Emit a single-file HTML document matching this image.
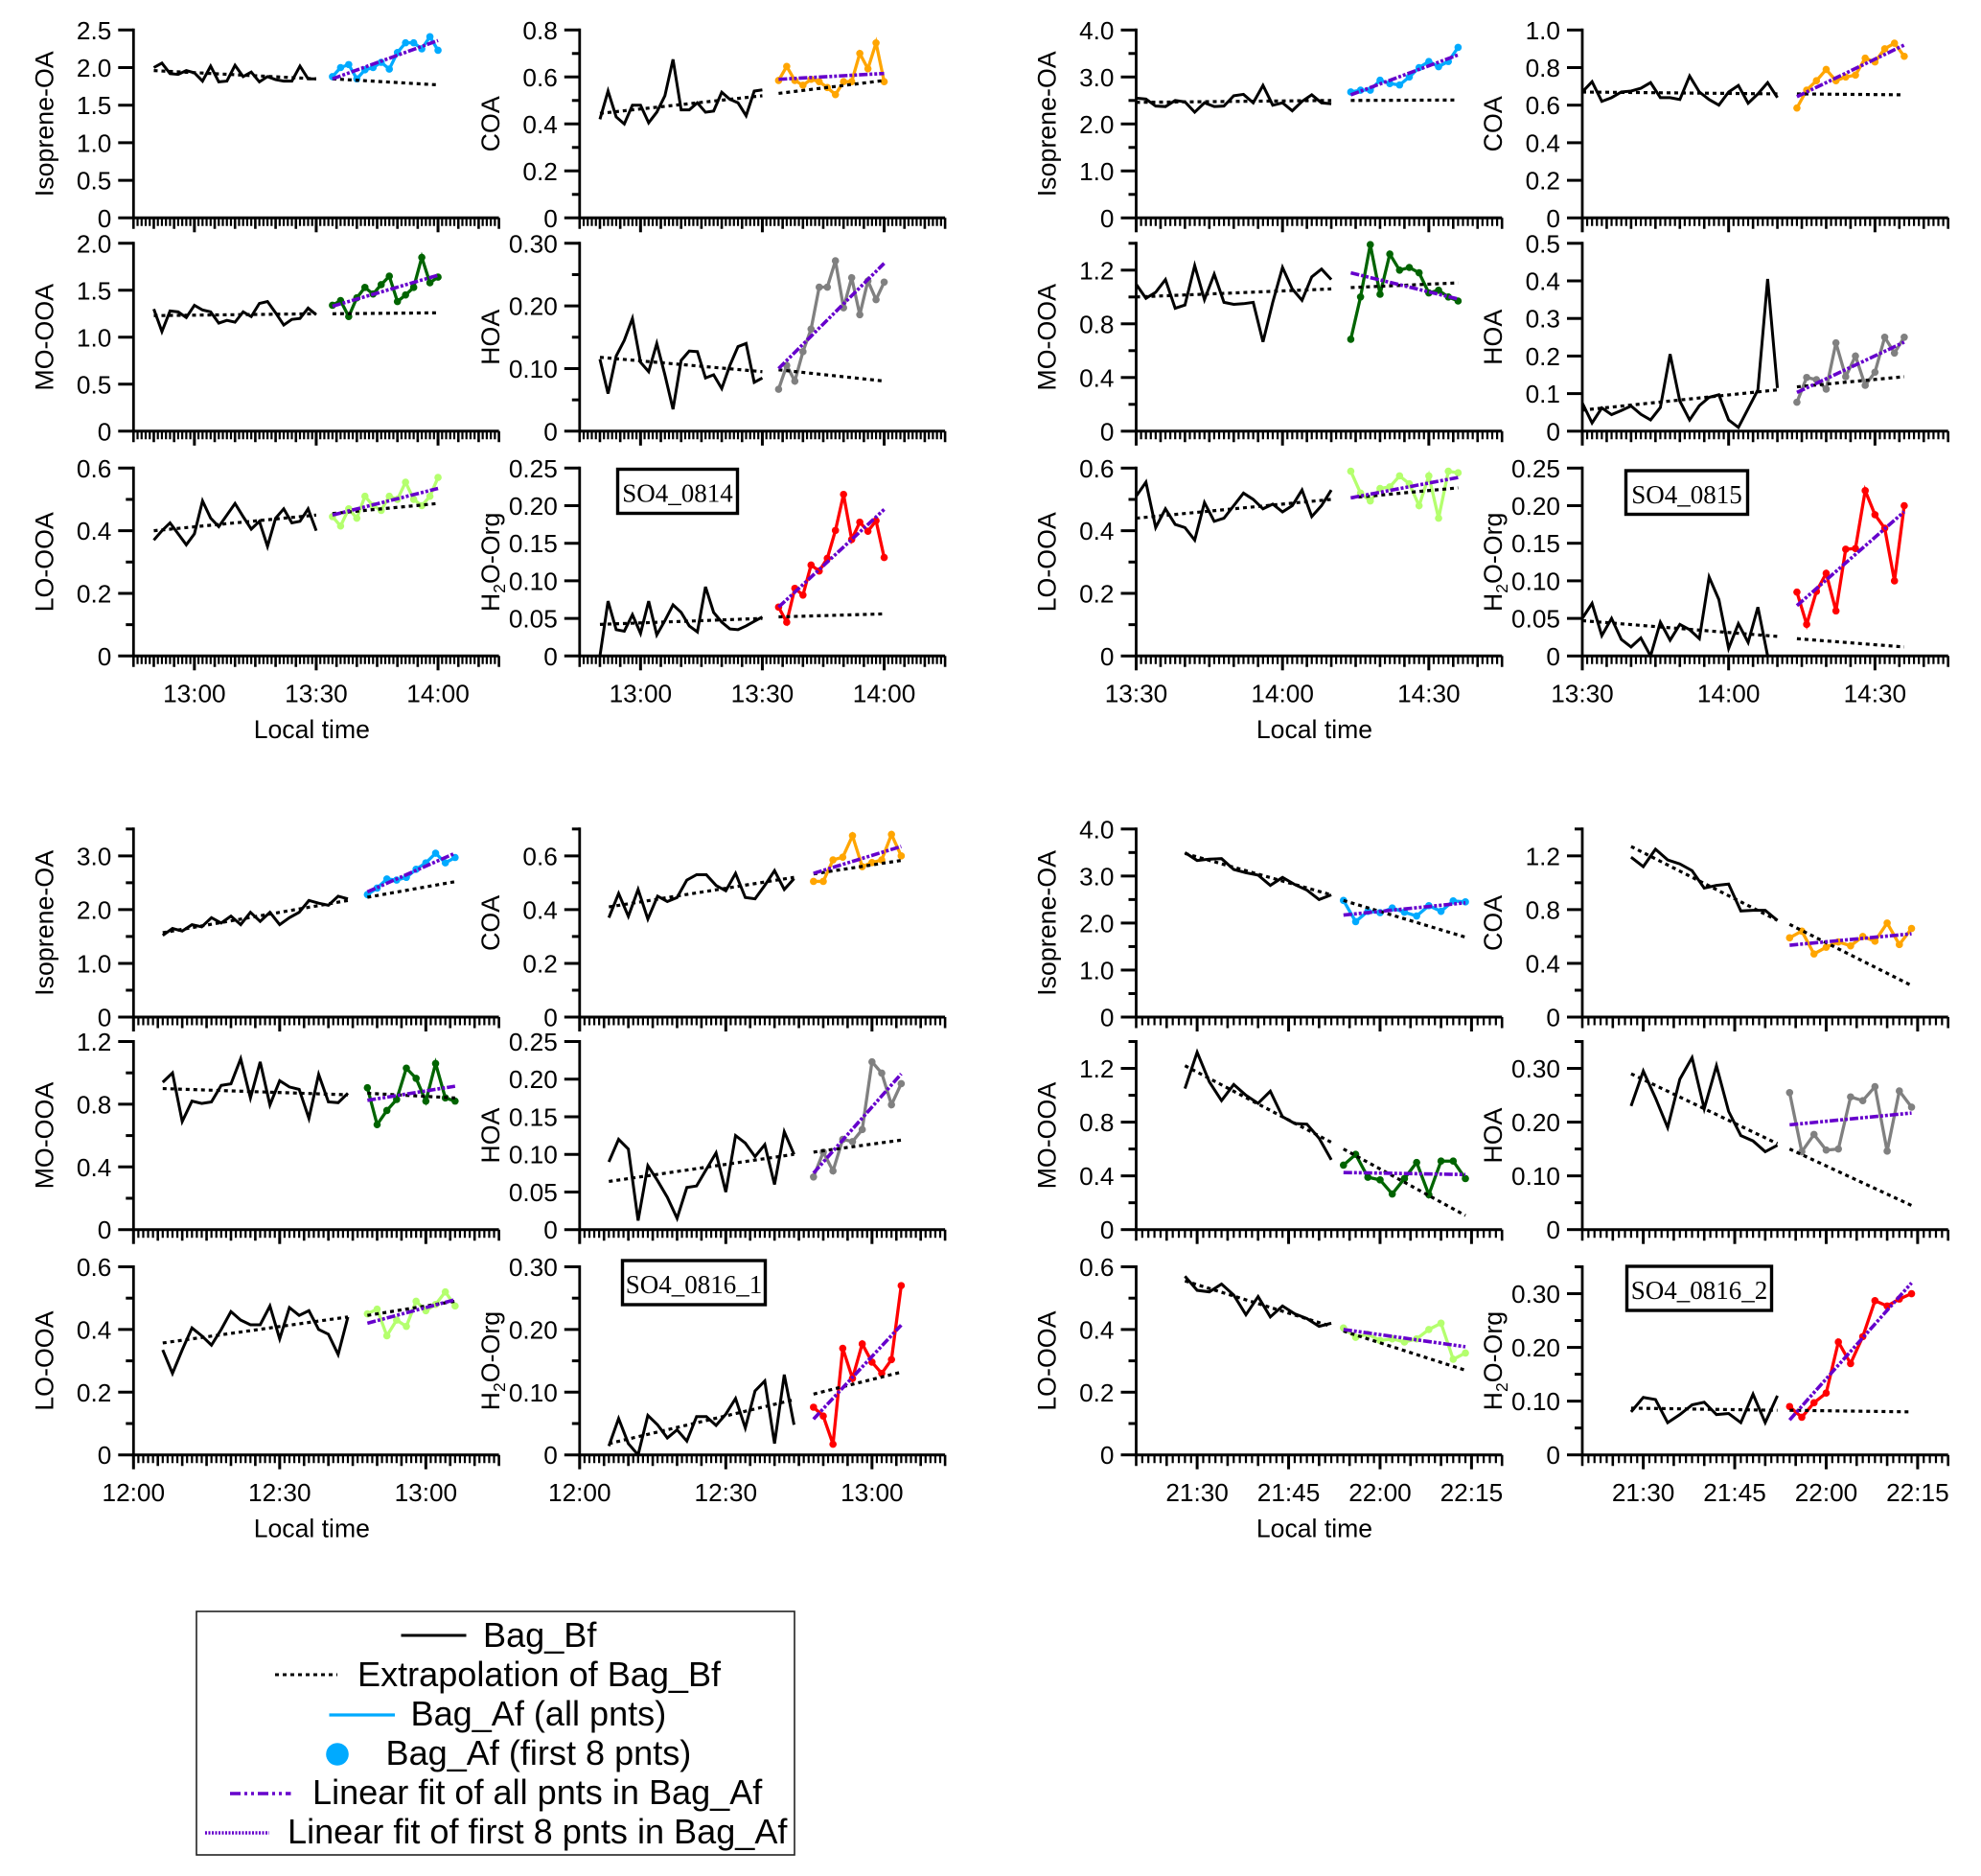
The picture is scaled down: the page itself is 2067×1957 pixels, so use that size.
<!DOCTYPE html>
<html lang="en">
<head>
<meta charset="utf-8">
<title>Bag experiment OA factor time series</title>
<style>
html,body{margin:0;padding:0;background:#fff;}
svg{display:block;font-family:"Liberation Sans",Arial,sans-serif;}
</style>
</head>
<body>
<svg id="chart" xmlns="http://www.w3.org/2000/svg" width="2067" height="1957" viewBox="0 0 2067 1957">
<rect x="0" y="0" width="2067" height="1957" fill="#fff"/>
<g id="plots"></g>
<g>
<rect x="205" y="1681" width="624" height="254" fill="#fff" stroke="#222" stroke-width="1.6"/>
<g font-size="36.1" fill="#000">
<line x1="418.5" x2="486.5" y1="1706" y2="1706" stroke="#000" stroke-width="3"/>
<text x="504" y="1718">Bag_Bf</text>
<line x1="287" x2="352" y1="1747" y2="1747" stroke="#000" stroke-width="3" stroke-dasharray="4 4"/>
<text x="373" y="1759">Extrapolation of Bag_Bf</text>
<line x1="343.5" x2="412" y1="1789" y2="1789" stroke="#00AAFF" stroke-width="3.2"/>
<text x="428.5" y="1800">Bag_Af (all pnts)</text>
<circle cx="352" cy="1830" r="11.8" fill="#00AAFF"/>
<text x="402.5" y="1841">Bag_Af (first 8 pnts)</text>
<line x1="240" x2="303.5" y1="1871" y2="1871" stroke="#6600CC" stroke-width="3.5" stroke-dasharray="11 4 3 4 3 4"/>
<text x="326" y="1882">Linear fit of all pnts in Bag_Af</text>
<line x1="214" x2="281" y1="1912" y2="1912" stroke="#6600CC" stroke-width="3.5" stroke-dasharray="2 1.5"/>
<text x="300" y="1923">Linear fit of first 8 pnts in Bag_Af</text>
</g>
</g>
</svg>
<script>
/* ---------- SO4_0814 ---------- */
const a1Bf=[2.0,2.06,1.92,1.91,1.96,1.93,1.82,2.02,1.81,1.82,2.03,1.88,1.94,1.81,1.88,1.84,1.82,1.82,2.02,1.85,1.85];
const a1Af=[1.88,2.0,2.04,1.85,1.97,2.0,2.07,1.98,2.2,2.33,2.33,2.25,2.41,2.23];
const a1Fit=[1.85,2.36];const a1ExtBf=[1.96,1.85];const a1ExtAf=[1.85,1.77];
const a2Bf=[0.42,0.54,0.43,0.40,0.48,0.48,0.405,0.45,0.52,0.675,0.46,0.46,0.49,0.45,0.455,0.535,0.505,0.49,0.435,0.54,0.545];
const a2Af=[0.585,0.645,0.585,0.565,0.59,0.58,0.555,0.525,0.58,0.58,0.70,0.635,0.745,0.58];
const a2Fit=[0.59,0.615];const a2ExtBf=[0.445,0.52];const a2ExtAf=[0.53,0.585];
const a3Bf=[1.30,1.06,1.28,1.27,1.21,1.34,1.29,1.27,1.15,1.18,1.16,1.27,1.22,1.36,1.38,1.26,1.13,1.19,1.20,1.31,1.24];
const a3Af=[1.34,1.39,1.22,1.42,1.53,1.46,1.56,1.65,1.38,1.45,1.53,1.85,1.58,1.64];
const a3Fit=[1.33,1.66];const a3ExtBf=[1.23,1.25];const a3ExtAf=[1.25,1.26];
const a4Bf=[0.115,0.06,0.12,0.145,0.18,0.11,0.095,0.14,0.09,0.035,0.113,0.128,0.127,0.085,0.09,0.068,0.105,0.135,0.14,0.078,0.085];
const a4Af=[0.067,0.105,0.08,0.127,0.163,0.23,0.23,0.272,0.197,0.245,0.186,0.24,0.21,0.238];
const a4Fit=[0.10,0.268];const a4ExtBf=[0.118,0.095];const a4ExtAf=[0.098,0.08];
const a5Bf=[0.37,0.40,0.425,0.39,0.355,0.39,0.495,0.44,0.413,0.45,0.487,0.445,0.405,0.43,0.35,0.44,0.47,0.425,0.43,0.47,0.40];
const a5Af=[0.445,0.415,0.47,0.44,0.51,0.48,0.465,0.51,0.50,0.555,0.50,0.48,0.51,0.57];
const a5Fit=[0.45,0.535];const a5ExtBf=[0.40,0.45];const a5ExtAf=[0.455,0.487];
const a6Bf=[0,0.073,0.035,0.033,0.055,0.03,0.073,0.028,0.047,0.068,0.058,0.04,0.032,0.092,0.058,0.045,0.036,0.035,0.04,0.046,0.052];
const a6Af=[0.065,0.045,0.09,0.081,0.121,0.113,0.13,0.167,0.215,0.155,0.178,0.166,0.18,0.131];
const a6Fit=[0.065,0.195];const a6ExtBf=[0.042,0.05];const a6ExtAf=[0.052,0.056];
/* ---------- SO4_0815 ---------- */
const b1Bf=[2.55,2.53,2.38,2.37,2.5,2.47,2.25,2.45,2.37,2.38,2.6,2.63,2.45,2.82,2.4,2.45,2.28,2.48,2.62,2.45,2.43];
const b1Af=[2.68,2.72,2.72,2.93,2.86,2.83,3.0,3.2,3.33,3.22,3.33,3.63];
const b1Fit=[2.62,3.47];const b1ExtBf=[2.46,2.5];const b1ExtAf=[2.5,2.51];
const b2Bf=[0.67,0.725,0.62,0.64,0.67,0.675,0.69,0.72,0.64,0.64,0.63,0.755,0.67,0.63,0.60,0.67,0.705,0.61,0.66,0.72,0.64];
const b2Af=[0.585,0.68,0.73,0.79,0.73,0.75,0.76,0.85,0.83,0.90,0.93,0.86];
const b2Fit=[0.645,0.92];const b2ExtBf=[0.67,0.66];const b2ExtAf=[0.66,0.655];
const b3Bf=[1.095,0.99,1.035,1.13,0.916,0.94,1.234,0.98,1.17,0.96,0.945,0.95,0.96,0.665,0.96,1.22,1.06,0.975,1.15,1.208,1.13];
const b3Af=[0.685,1.0,1.39,1.02,1.32,1.2,1.22,1.18,1.03,1.05,1.0,0.97];
const b3Fit=[1.18,0.985];const b3ExtBf=[1.0,1.06];const b3ExtAf=[1.07,1.105];
const b4Bf=[0.075,0.022,0.062,0.044,0.055,0.067,0.045,0.03,0.063,0.205,0.08,0.03,0.068,0.09,0.097,0.03,0.01,0.06,0.11,0.405,0.115];
const b4Af=[0.077,0.143,0.137,0.112,0.235,0.145,0.2,0.122,0.157,0.25,0.208,0.25];
const b4Fit=[0.103,0.237];const b4ExtBf=[0.056,0.11];const b4ExtAf=[0.118,0.145];
const b5Bf=[0.51,0.555,0.41,0.47,0.42,0.41,0.37,0.49,0.43,0.44,0.48,0.52,0.50,0.47,0.485,0.46,0.48,0.53,0.445,0.48,0.53];
const b5Af=[0.59,0.52,0.495,0.535,0.54,0.575,0.55,0.48,0.575,0.44,0.59,0.585];
const b5Fit=[0.505,0.57];const b5ExtBf=[0.44,0.50];const b5ExtAf=[0.505,0.537];
const b6Bf=[0.05,0.07,0.027,0.05,0.022,0.012,0.024,0,0.045,0.021,0.042,0.035,0.023,0.105,0.075,0.01,0.043,0.018,0.065,0];
const b6Af=[0.085,0.042,0.086,0.11,0.06,0.142,0.143,0.22,0.188,0.17,0.10,0.20];
const b6Fit=[0.067,0.192];const b6ExtBf=[0.047,0.026];const b6ExtAf=[0.023,0.012];
/* ---------- SO4_0816_1 ---------- */
const c1Bf=[1.52,1.65,1.6,1.72,1.68,1.85,1.75,1.88,1.72,1.95,1.78,1.95,1.72,1.85,1.95,2.17,2.12,2.08,2.25,2.2];
const c1Af=[2.28,2.4,2.57,2.55,2.6,2.75,2.87,3.05,2.87,2.97];
const c1Fit=[2.33,3.05];const c1ExtBf=[1.57,2.17];const c1ExtAf=[2.23,2.52];
const c2Bf=[0.37,0.46,0.375,0.475,0.365,0.45,0.43,0.445,0.51,0.53,0.53,0.49,0.47,0.535,0.445,0.44,0.49,0.545,0.475,0.515];
const c2Af=[0.505,0.505,0.585,0.595,0.675,0.56,0.575,0.585,0.68,0.60];
const c2Fit=[0.535,0.635];const c2ExtBf=[0.41,0.52];const c2ExtAf=[0.533,0.583];
const c3Bf=[0.94,1.0,0.69,0.82,0.805,0.815,0.92,0.93,1.09,0.84,1.07,0.795,0.95,0.91,0.895,0.71,0.99,0.815,0.81,0.87];
const c3Af=[0.905,0.67,0.76,0.83,1.03,0.965,0.82,1.06,0.84,0.82];
const c3Fit=[0.825,0.915];const c3ExtBf=[0.90,0.86];const c3ExtAf=[0.87,0.84];
const c4Bf=[0.09,0.12,0.107,0.012,0.085,0.065,0.043,0.015,0.056,0.058,0.08,0.102,0.05,0.125,0.115,0.097,0.113,0.06,0.13,0.10];
const c4Af=[0.07,0.103,0.078,0.12,0.117,0.133,0.223,0.208,0.166,0.194];
const c4Fit=[0.075,0.207];const c4ExtBf=[0.064,0.10];const c4ExtAf=[0.103,0.119];
const c5Bf=[0.335,0.26,0.335,0.405,0.38,0.35,0.40,0.457,0.43,0.415,0.415,0.475,0.37,0.47,0.445,0.46,0.40,0.385,0.32,0.44];
const c5Af=[0.45,0.465,0.38,0.43,0.41,0.49,0.46,0.48,0.52,0.475];
const c5Fit=[0.42,0.495];const c5ExtBf=[0.357,0.44];const c5ExtAf=[0.445,0.49];
const c6Bf=[0.014,0.058,0.018,0,0.063,0.048,0.027,0.04,0.022,0.061,0.061,0.047,0.065,0.09,0.043,0.102,0.118,0.018,0.128,0.048];
const c6Af=[0.076,0.062,0.017,0.17,0.122,0.177,0.148,0.13,0.152,0.27];
const c6Fit=[0.057,0.207];const c6ExtBf=[0.018,0.088];const c6ExtAf=[0.097,0.132];
/* ---------- SO4_0816_2 ---------- */
const d1Bf=[3.5,3.33,3.36,3.37,3.14,3.07,3.02,2.8,2.97,2.82,2.7,2.5,2.6];
const d1Af=[2.48,2.03,2.25,2.22,2.32,2.23,2.15,2.37,2.25,2.47,2.45];
const d1Fit=[2.17,2.43];const d1ExtBf=[3.48,2.6];const d1ExtAf=[2.48,1.7];
const d2Bf=[1.19,1.12,1.25,1.17,1.14,1.09,0.96,0.98,0.99,0.79,0.795,0.795,0.72];
const d2Af=[0.59,0.64,0.47,0.52,0.56,0.53,0.6,0.565,0.7,0.54,0.66];
const d2Fit=[0.535,0.62];const d2ExtBf=[1.27,0.72];const d2ExtAf=[0.69,0.235];
const d3Bf=[1.05,1.32,1.1,0.96,1.08,1.0,0.94,1.03,0.84,0.79,0.785,0.68,0.52];
const d3Af=[0.48,0.56,0.39,0.37,0.265,0.38,0.5,0.26,0.51,0.51,0.38];
const d3Fit=[0.425,0.41];const d3ExtBf=[1.22,0.65];const d3ExtAf=[0.6,0.105];
const d4Bf=[0.23,0.295,0.245,0.19,0.28,0.32,0.225,0.305,0.22,0.175,0.165,0.145,0.157];
const d4Af=[0.255,0.145,0.177,0.148,0.15,0.247,0.24,0.266,0.146,0.258,0.228];
const d4Fit=[0.195,0.217];const d4ExtBf=[0.29,0.16];const d4ExtAf=[0.15,0.045];
const d5Bf=[0.57,0.525,0.52,0.545,0.51,0.447,0.505,0.44,0.475,0.45,0.435,0.41,0.42];
const d5Af=[0.405,0.375,0.385,0.365,0.37,0.36,0.37,0.40,0.42,0.305,0.325];
const d5Fit=[0.40,0.345];const d5ExtBf=[0.555,0.41];const d5ExtAf=[0.395,0.27];
const d6Bf=[0.08,0.107,0.103,0.06,0.075,0.093,0.098,0.075,0.077,0.06,0.113,0.06,0.11];
const d6Af=[0.09,0.07,0.097,0.115,0.21,0.17,0.22,0.287,0.277,0.29,0.30];
const d6Fit=[0.065,0.32];const d6ExtBf=[0.087,0.083];const d6ExtAf=[0.083,0.08];

/* tick labels per panel */
const tk05_25=['0','0.5','1.0','1.5','2.0','2.5'],tk02_08=['0','0.2','0.4','0.6','0.8'],tk05_20=['0','0.5','1.0','1.5','2.0'];
const tk10_30=['0','0.10','0.20','0.30'],tk02_06=['0','0.2','0.4','0.6'],tk05_025=['0','0.05','0.10','0.15','0.20','0.25'];
const tk1_4=['0','1.0','2.0','3.0','4.0'],tk02_10=['0','0.2','0.4','0.6','0.8','1.0'],tk04_12=['0','0.4','0.8','1.2'];
const tk1_05=['0','0.1','0.2','0.3','0.4','0.5'],tk1_3=['0','1.0','2.0','3.0'],tk02_06b=['0','0.2','0.4','0.6'];

/* time axes in minutes after midnight */
const timeMajorA=[780,810,840],timeLabelA=['13:00','13:30','14:00'];
const timeMajorB=[810,840,870],timeLabelB=['13:30','14:00','14:30'];
const timeMajorC=[720,750,780],timeLabelC=['12:00','12:30','13:00'];
const timeMajorD=[1290,1305,1320,1335],timeLabelD=['21:30','21:45','22:00','22:15'];

const NS='http://www.w3.org/2000/svg';
const root=document.getElementById('plots');
const rowColors=['#00AAFF','#FFA500','#006400','#808080','#B4FF6E','#FF0000'];
const speciesNames=['Isoprene-OA','COA','MO-OOA','HOA','LO-OOA','H2O-Org'];

function mk(parent,tag,attrs){
  const el=document.createElementNS(NS,tag);
  for(const k in attrs)el.setAttribute(k,attrs[k]);
  parent.appendChild(el);
  return el;
}

function drawPanel(block,col,row,p){
  const left=block.left[col],width=block.width;
  const baseY=block.base[row],height=block.height;
  const tag=block.id+'-'+speciesNames[row].toLowerCase();
  const g=mk(root,'g',{});
  
  
  const xs=m=>left+(m-block.tMin)/(block.tMax-block.tMin)*width;
  const ys=v=>baseY-v/p.max*height;

  /* x ticks */
  let minor='',medium='';
  for(let m=block.tMin;m<=block.tMax;m++){
    if(block.major.includes(m))continue;
    const x=xs(m).toFixed(2);
    if((m%5)===0)medium+='M'+x+' '+baseY+'v11.5';
    else minor+='M'+x+' '+baseY+'v8.5';
  }
  const minorTicks=mk(g,'path',{d:minor,stroke:'#000','stroke-width':2.2,fill:'none'});
  
  
  const medTicks=mk(g,'path',{d:medium,stroke:'#000','stroke-width':2.6,fill:'none'});
  
  
  block.major.forEach((m,i)=>{
    const t=mk(g,'line',{x1:xs(m),x2:xs(m),y1:baseY,y2:baseY+15,stroke:'#000','stroke-width':3});
    
    
    if(row>=4){
      const lab=mk(g,'text',{x:xs(m),y:baseY+48.4,'text-anchor':'middle','font-size':26.2,fill:'#000'});
      lab.textContent=block.labels[i];
      
      
    }
  });

  /* axes */
  const xAxis=mk(g,'line',{x1:left,x2:left+width,y1:baseY,y2:baseY,stroke:'#000','stroke-width':3});
  
  
  const yAxis=mk(g,'line',{x1:left,x2:left,y1:ys(p.max)-1.5,y2:baseY+1.5,stroke:'#000','stroke-width':2.8});
  
  

  /* y ticks */
  p.ticks.forEach(s=>{
    const v=parseFloat(s),y=ys(v);
    const t=mk(g,'line',{x1:left-16,x2:left,y1:y,y2:y,stroke:'#000','stroke-width':3});
    
    
    const lab=mk(g,'text',{x:left-23,y:y+9.5,'text-anchor':'end','font-size':26.2,fill:'#000'});
    lab.textContent=s;
    
    
  });
  if(p.minor){
    const n=Math.round(p.max/p.minor);
    for(let i=0;i<=n;i++){
      const v=i*p.minor;
      if(p.ticks.some(s=>Math.abs(parseFloat(s)-v)<1e-6))continue;
      const t=mk(g,'line',{x1:left-8,x2:left,y1:ys(v),y2:ys(v),stroke:'#000','stroke-width':3});
      
      
    }
  }

  /* y title */
  const cy=baseY-height/2,bx=left-84;
  const title=mk(g,'text',{x:bx,y:cy,'text-anchor':'middle','font-size':26.8,fill:'#000',transform:'rotate(-90 '+bx+' '+cy+')'});
  if(row===5){
    title.appendChild(document.createTextNode('H'));
    const sub=mk(title,'tspan',{dy:6,'font-size':17.5});
    sub.textContent='2';
    const rest=mk(title,'tspan',{dy:-6});
    rest.textContent='O-Org';
  }else{
    title.textContent=speciesNames[row];
  }
  
  

  /* series */
  const step=block.step;
  const bfPts=p.bf.map((v,i)=>xs(block.bfStart+i*step).toFixed(2)+','+ys(v).toFixed(2)).join(' ');
  const afPts=p.af.map((v,i)=>xs(block.afStart+i*step).toFixed(2)+','+ys(v).toFixed(2)).join(' ');
  const bfLast=block.bfStart+(block.bfCount-1)*step;
  const afLast=block.afStart+(p.af.length-1)*step;

  const bf=mk(g,'polyline',{points:bfPts,fill:'none',stroke:'#000','stroke-width':3,'stroke-linejoin':'miter'});
  
  

  const color=rowColors[row];
  const af=mk(g,'polyline',{points:afPts,fill:'none',stroke:color,'stroke-width':3.3});
  
  
  p.af.forEach((v,i)=>{
    const c=mk(g,'circle',{cx:xs(block.afStart+i*step),cy:ys(v),r:3.8,fill:color});
    
    
  });

  const e1=mk(g,'line',{x1:xs(block.bfStart),y1:ys(p.extBf[0]),x2:xs(bfLast),y2:ys(p.extBf[1]),stroke:'#000','stroke-width':3.2,'stroke-dasharray':'4 4'});
  
  
  const e2=mk(g,'line',{x1:xs(block.afStart),y1:ys(p.extAf[0]),x2:xs(afLast),y2:ys(p.extAf[1]),stroke:'#000','stroke-width':3.2,'stroke-dasharray':'4 4'});
  
  
  const fit=mk(g,'line',{x1:xs(block.afStart),y1:ys(p.fit[0]),x2:xs(afLast),y2:ys(p.fit[1]),stroke:'#6600CC','stroke-width':3.6,'stroke-dasharray':'9 2 3 2 3 2'});
  
  

  /* x title on the left bottom panel */
  if(row===4){
    const lt=mk(g,'text',{x:left+block.titleOffset,y:baseY+85.7,'text-anchor':'middle','font-size':26.6,fill:'#000'});
    lt.textContent='Local time';
    
    
  }
}

function drawTag(text,x0,y0,x1,y1){
  const g=mk(root,'g',{});
  
  
  const r=mk(g,'rect',{x:x0,y:y0,width:x1-x0,height:y1-y0,fill:'#fff',stroke:'#000','stroke-width':3.4});
  
  
  const t=mk(g,'text',{x:(x0+x1)/2,y:y0+34,'text-anchor':'middle','font-size':27,fill:'#000','font-family':'"Liberation Serif",serif'});
  t.textContent=text;
  
  
}

const topBase=[227.3,449.8,684.3],lowBase=[1061,1282.7,1517.7];
function bases(b){return [b[0],b[0],b[1],b[1],b[2],b[2]];}
function panelsOf(block,defs){
  defs.forEach((p,i)=>drawPanel(Object.assign({},block,{base:bases(block.baseRows)}),i%2,i,p));
}

const blockA={id:'so4-0814',left:[139.3,604.8],width:381.3,height:196,baseRows:topBase,tMin:765,tMax:855,major:timeMajorA,labels:timeLabelA,bfStart:770,afStart:814,step:2,bfCount:21,titleOffset:186};
const blockB={id:'so4-0815',left:[1185.5,1651],width:381.7,height:196,baseRows:topBase,tMin:810,tMax:885,major:timeMajorB,labels:timeLabelB,bfStart:810,afStart:854,step:2,bfCount:21,titleOffset:186};
const blockC={id:'so4-0816-1',left:[139.3,604.8],width:381.3,height:196.2,baseRows:lowBase,tMin:720,tMax:795,major:timeMajorC,labels:timeLabelC,bfStart:726,afStart:768,step:2,bfCount:20,titleOffset:186};
const blockD={id:'so4-0816-2',left:[1185.5,1651],width:381.7,height:196.2,baseRows:lowBase,tMin:1280,tMax:1340,major:timeMajorD,labels:timeLabelD,bfStart:1288,afStart:1314,step:2,bfCount:13,titleOffset:186};

panelsOf(blockA,[
 {bf:a1Bf,af:a1Af,fit:a1Fit,extBf:a1ExtBf,extAf:a1ExtAf,max:2.5,ticks:tk05_25,minor:0},
 {bf:a2Bf,af:a2Af,fit:a2Fit,extBf:a2ExtBf,extAf:a2ExtAf,max:0.8,ticks:tk02_08,minor:0.1},
 {bf:a3Bf,af:a3Af,fit:a3Fit,extBf:a3ExtBf,extAf:a3ExtAf,max:2.0,ticks:tk05_20,minor:0},
 {bf:a4Bf,af:a4Af,fit:a4Fit,extBf:a4ExtBf,extAf:a4ExtAf,max:0.30,ticks:tk10_30,minor:0.05},
 {bf:a5Bf,af:a5Af,fit:a5Fit,extBf:a5ExtBf,extAf:a5ExtAf,max:0.6,ticks:tk02_06,minor:0.1},
 {bf:a6Bf,af:a6Af,fit:a6Fit,extBf:a6ExtBf,extAf:a6ExtAf,max:0.25,ticks:tk05_025,minor:0}
]);
panelsOf(blockB,[
 {bf:b1Bf,af:b1Af,fit:b1Fit,extBf:b1ExtBf,extAf:b1ExtAf,max:4.0,ticks:tk1_4,minor:0.5},
 {bf:b2Bf,af:b2Af,fit:b2Fit,extBf:b2ExtBf,extAf:b2ExtAf,max:1.0,ticks:tk02_10,minor:0},
 {bf:b3Bf,af:b3Af,fit:b3Fit,extBf:b3ExtBf,extAf:b3ExtAf,max:1.4,ticks:tk04_12,minor:0.2},
 {bf:b4Bf,af:b4Af,fit:b4Fit,extBf:b4ExtBf,extAf:b4ExtAf,max:0.5,ticks:tk1_05,minor:0},
 {bf:b5Bf,af:b5Af,fit:b5Fit,extBf:b5ExtBf,extAf:b5ExtAf,max:0.6,ticks:tk02_06,minor:0.1},
 {bf:b6Bf,af:b6Af,fit:b6Fit,extBf:b6ExtBf,extAf:b6ExtAf,max:0.25,ticks:tk05_025,minor:0}
]);
panelsOf(blockC,[
 {bf:c1Bf,af:c1Af,fit:c1Fit,extBf:c1ExtBf,extAf:c1ExtAf,max:3.5,ticks:tk1_3,minor:0.5},
 {bf:c2Bf,af:c2Af,fit:c2Fit,extBf:c2ExtBf,extAf:c2ExtAf,max:0.7,ticks:tk02_06b,minor:0.1},
 {bf:c3Bf,af:c3Af,fit:c3Fit,extBf:c3ExtBf,extAf:c3ExtAf,max:1.2,ticks:tk04_12,minor:0.2},
 {bf:c4Bf,af:c4Af,fit:c4Fit,extBf:c4ExtBf,extAf:c4ExtAf,max:0.25,ticks:tk05_025,minor:0},
 {bf:c5Bf,af:c5Af,fit:c5Fit,extBf:c5ExtBf,extAf:c5ExtAf,max:0.6,ticks:tk02_06,minor:0.1},
 {bf:c6Bf,af:c6Af,fit:c6Fit,extBf:c6ExtBf,extAf:c6ExtAf,max:0.30,ticks:tk10_30,minor:0.05}
]);
panelsOf(blockD,[
 {bf:d1Bf,af:d1Af,fit:d1Fit,extBf:d1ExtBf,extAf:d1ExtAf,max:4.0,ticks:tk1_4,minor:0.5},
 {bf:d2Bf,af:d2Af,fit:d2Fit,extBf:d2ExtBf,extAf:d2ExtAf,max:1.4,ticks:tk04_12,minor:0.2},
 {bf:d3Bf,af:d3Af,fit:d3Fit,extBf:d3ExtBf,extAf:d3ExtAf,max:1.4,ticks:tk04_12,minor:0.2},
 {bf:d4Bf,af:d4Af,fit:d4Fit,extBf:d4ExtBf,extAf:d4ExtAf,max:0.35,ticks:tk10_30,minor:0.05},
 {bf:d5Bf,af:d5Af,fit:d5Fit,extBf:d5ExtBf,extAf:d5ExtAf,max:0.6,ticks:tk02_06,minor:0.1},
 {bf:d6Bf,af:d6Af,fit:d6Fit,extBf:d6ExtBf,extAf:d6ExtAf,max:0.35,ticks:tk10_30,minor:0.05}
]);

drawTag('SO4_0814',644.5,489.5,769.5,535.5);
drawTag('SO4_0815',1696.5,491,1823.5,536.5);
drawTag('SO4_0816_1',649.5,1315,798.5,1361);
drawTag('SO4_0816_2',1697.5,1321,1848.5,1367);
</script>
</body>
</html>
